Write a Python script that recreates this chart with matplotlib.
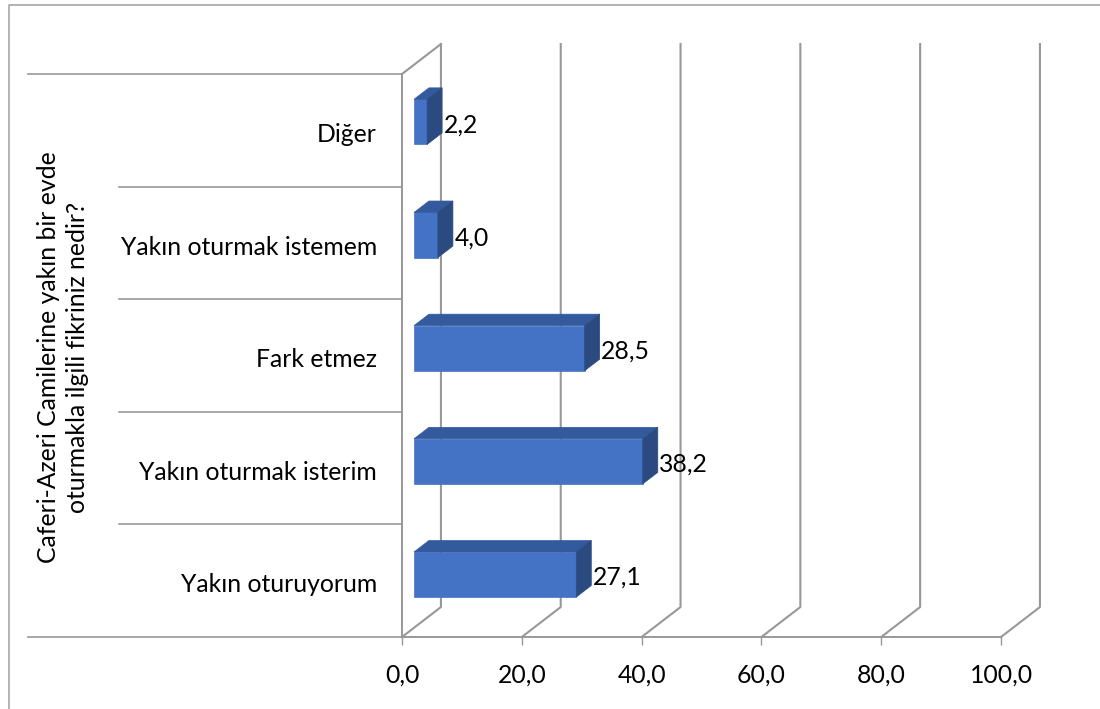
import matplotlib
matplotlib.use("Agg")
import matplotlib.pyplot as plt
from matplotlib.lines import Line2D
import numpy as np

categories = ["Yakın oturuyorum", "Yakın oturmak isterim", "Fark etmez",
              "Yakın oturmak istemem", "Diğer"]
values = [27.1, 38.2, 28.5, 4.0, 2.2]
value_labels = ["27,1", "38,2", "28,5", "4,0", "2,2"]
x_ticks = [0, 20, 40, 60, 80, 100]
x_tick_labels = ["0,0", "20,0", "40,0", "60,0", "80,0", "100,0"]
y_title = "Caferi-Azeri Camilerine yakın bir evde\noturmakla ilgili fikriniz nedir?"

W, H = 1100, 709
GRAY = "#989898"
FRONT, TOP, SIDE = "#4472C4", "#345A9E", "#2B4A80"

plt.rcParams["font.family"] = ["Lato", "DejaVu Sans"]
FS = 17.8

fig = plt.figure(figsize=(W / 100, H / 100), dpi=100)
ax = fig.add_axes([402 / W, 1 - 637 / H, 599 / W, 563 / H])
ax.set_xlim(0, 100)
ax.set_ylim(0, 5)
ax.patch.set_visible(False)

# depth of the 3d box and of the bars, in data units
wall_dx, wall_dy = 6.5, 0.266
bar_dx, bar_dy = 2.5, 0.102
bar_start, bar_low, bar_h, bar_step = 2.0, 0.355, 0.4, 1.005

for s in ["top", "right"]:
    ax.spines[s].set_visible(False)
for s in ["left", "bottom"]:
    ax.spines[s].set_color(GRAY)
    ax.spines[s].set_linewidth(1.4)

ax.set_xticks(x_ticks, x_tick_labels, fontsize=FS)
ax.set_yticks(np.arange(len(categories)) + 0.48, categories, fontsize=FS)
ax.tick_params(axis="x", length=6, width=1, color=GRAY, pad=13)
ax.tick_params(axis="y", length=0, pad=18)

# back wall lines and floor diagonals
for t in x_ticks:
    ax.plot([t, t + wall_dx, t + wall_dx], [0, wall_dy, 5 + wall_dy],
            color=GRAY, lw=1.5, clip_on=False, zorder=1)
ax.plot([0, wall_dx], [5, 5 + wall_dy], color=GRAY, lw=1.5, clip_on=False, zorder=1)

# category separators out to the left
for i in range(len(categories) + 1):
    left = -62.5 if i in (0, len(categories)) else -47.2
    ax.plot([left, 0], [i, i], color=GRAY, lw=1.2, clip_on=False, zorder=1)

for i, v in enumerate(values):
    x0, x1 = bar_start, bar_start + v
    y0 = i * bar_step + bar_low
    y1 = y0 + bar_h
    ax.fill([x0, x1, x1, x0], [y0, y0, y1, y1], color=FRONT, lw=0.5, zorder=3)
    ax.fill([x0, x1, x1 + bar_dx, x0 + bar_dx], [y1, y1, y1 + bar_dy, y1 + bar_dy],
            color=TOP, lw=0.5, zorder=3)
    ax.fill([x1, x1 + bar_dx, x1 + bar_dx, x1], [y0, y0 + bar_dy, y1 + bar_dy, y1],
            color=SIDE, lw=0.5, zorder=3)
    ax.text(x1 + bar_dx + 0.25, y0 + bar_h / 2 - 0.025, value_labels[i],
            fontsize=FS, va="center", ha="left", zorder=4)

fig.text(63 / W, 1 - 357 / H, y_title, rotation=90, fontsize=FS, ha="center",
         va="center", linespacing=1.3, multialignment="center")

# chart area border (only left and top are in the picture)
fig.add_artist(Line2D([8.5 / W, 8.5 / W, 1], [0, 1 - 4.5 / H, 1 - 4.5 / H],
                      color="#a6a6a6", lw=1.2))

fig.savefig("out.png", dpi=100)
